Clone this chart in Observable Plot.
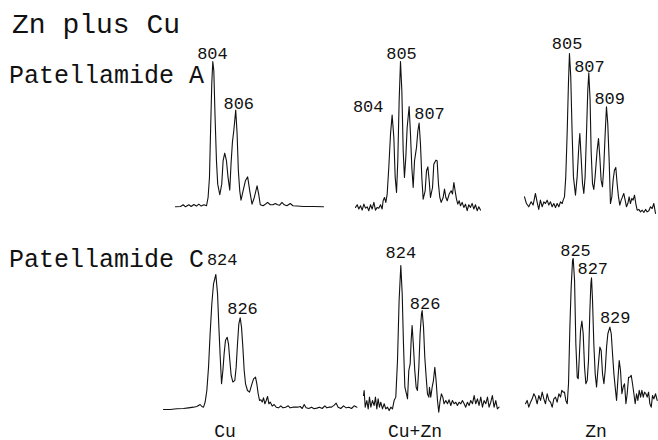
<!DOCTYPE html>
<html><head><meta charset="utf-8">
<script src="https://cdn.jsdelivr.net/npm/d3@7"></script>
<script src="https://cdn.jsdelivr.net/npm/@observablehq/plot@0.6"></script>
<style>
body{margin:0;background:#fff;}
#chart{position:relative;width:658px;height:440px;overflow:hidden;background:#fff;font-family:"Liberation Mono","Courier New",monospace;color:#111;}
.lbl{position:absolute;white-space:pre;line-height:1;}
.ctr{transform:translateX(-50%);line-height:0.8;}
</style></head><body><div id="chart"></div>
<script>
// ---------- DATA (m/z, relative intensity %) ----------
const rowNames = ["Patellamide A", "Patellamide C"];
const colNames = ["Cu", "Cu+Zn", "Zn"];
const titleText = "Zn plus Cu";

// Patellamide A, Cu
const aCuMz = [800.75,801.19,801.42,801.62,801.91,802.12,802.35,802.58,802.78,802.99,803.22,803.45,803.59,803.71,803.80,803.91,804.00,804.09,804.20,804.32,804.43,804.61,804.78,804.90,805.04,805.19,805.33,805.48,805.59,805.71,805.83,806.00,806.12,806.23,806.35,806.46,806.64,806.84,807.04,807.22,807.42,807.62,807.86,808.00,808.14,808.38,808.58,808.78,809.01,809.25,809.45,809.65,809.83,810.03,810.23,810.46,810.75,810.99,811.33,811.91,812.78,813.65];
const aCuInt = [0,0.2,1.4,0,1.4,0.2,1.6,0.5,1.8,0.5,1.4,0.7,6.4,20.2,50,84.4,100,93.6,61.5,31.7,15.6,8.3,15.6,31.7,36.9,31.7,20.2,11.5,29.4,44.3,52.3,66.5,50,24.8,11,4.6,11,17.9,20.6,11,1.8,6.4,14.4,8.7,1.4,0.7,1.8,3,1.4,1.4,2.3,1.4,1.1,3,1.4,0.7,2.3,0.7,0.5,0.2,0.2,0];
const aCuLabel = ["804","806"], aCuLabelMz = [803.97,806.26], aCuLabelInt = [105.6,71.2];

// Patellamide A, Cu+Zn
const aCuZnMz = [800.00,800.19,800.37,800.56,800.74,800.93,801.11,801.30,801.48,801.67,801.85,802.04,802.22,802.41,802.59,802.78,802.96,803.07,803.22,803.37,803.52,803.70,803.89,804.07,804.26,804.41,804.56,804.70,804.85,805.00,805.15,805.30,805.44,805.59,805.74,805.96,806.11,806.26,806.41,806.56,806.78,806.93,807.07,807.22,807.37,807.52,807.74,807.89,808.04,808.19,808.33,808.56,808.70,808.93,809.07,809.22,809.37,809.52,809.74,809.89,810.04,810.19,810.41,810.63,810.78,810.93,811.07,811.22,811.37,811.52,811.67,811.85,812.04,812.22,812.41,812.59,812.78,812.96,813.15,813.33,813.52,813.70,813.89];
const aCuZnInt = [1.8,3.6,0.7,2.9,0,4.0,1.3,2.2,-0.4,3.6,0.7,5.2,0,1.8,1.3,3.6,0.7,6.3,8.5,5.2,10.8,28.7,51.1,63.9,48.9,22,11.9,33.2,73.5,100,80.3,39.9,22,35.4,55.6,69.7,51.1,28.7,15.2,33.2,42.2,53.4,58.5,44.4,22,7.4,13,26.5,29.1,19.7,8.5,15.2,30.9,33.6,33.2,17.5,8.5,5.2,8.5,14.1,8.5,6.3,10.8,13,10.8,18.6,13,7.4,4,6.3,2.9,5.2,1.8,4,-0.4,3.6,1.8,4.5,0.7,3.6,-0.4,2.2,0];
const aCuZnLabel = ["804","805","807"], aCuZnLabelMz = [801.41,805.11,808.22], aCuZnLabelInt = [69.6,105.2,64.7];

// Patellamide A, Zn
const aZnMz = [800.14,800.35,800.60,800.86,801.07,801.32,801.50,801.68,801.86,802.05,802.23,802.41,802.59,802.77,802.95,803.13,803.31,803.49,803.67,803.85,804.03,804.21,804.32,804.46,804.60,804.75,804.89,805.00,805.14,805.29,805.43,805.65,805.83,806.01,806.12,806.26,806.41,806.55,806.69,806.84,806.98,807.09,807.23,807.34,807.49,807.63,807.77,807.99,808.14,808.28,808.42,808.57,808.71,808.86,809.00,809.14,809.29,809.43,809.58,809.72,809.86,810.01,810.15,810.30,810.44,810.59,810.73,810.87,811.02,811.16,811.31,811.45,811.59,811.74,811.88,812.03,812.17,812.32,812.50,812.68,812.86,813.04,813.22,813.40,813.58,813.76,813.94,814.12,814.30];
const aZnInt = [7.5,3.2,1.1,4.3,2.2,9.7,4.3,-0.6,5.4,1.1,4.3,3.2,5.4,2.2,4.3,1.1,3.2,0.6,3.2,1.1,4.3,3.2,5.4,7.5,20.4,48.4,80.6,100,84.9,48.4,20.4,8.6,20.4,39.8,48.4,33.3,16.1,9.7,20.4,48.4,76.3,87.5,69.9,37.6,16.1,12.3,20.4,37.6,45.2,33.3,18.3,14,26.9,48.4,65.6,54.8,31.2,3.2,7.5,18.3,24.7,26.5,16.1,7.5,2.2,5.4,7.5,9.7,5.4,1.1,3.2,7.5,3.2,6.5,5.4,8.6,3.2,-1.1,-0.6,-2.2,-1.1,-2.6,-0.6,-2.2,-1.5,1.1,0,3.2,-3.2];
const aZnLabel = ["805","807","809"], aZnLabelMz = [804.75,807.16,809.35], aZnLabelInt = [106.5,91.5,70.7];

// Patellamide C, Cu
const cCuMz = [819.70,820.25,820.79,821.34,821.75,822.16,822.44,822.71,822.85,822.99,823.12,823.26,823.40,823.53,823.67,823.81,824.00,824.14,824.25,824.36,824.47,824.58,824.68,824.79,824.93,825.04,825.15,825.26,825.40,825.56,825.67,825.78,825.89,826.00,826.11,826.22,826.33,826.44,826.60,826.77,826.93,827.10,827.26,827.37,827.48,827.59,827.70,827.81,827.92,828.03,828.14,828.25,828.36,828.47,828.63,828.79,828.96,829.15,829.34,829.51,829.73,829.95,830.11,830.33,830.49,830.71,830.93,831.10,831.26,831.42,831.64,831.86,832.08,832.30,832.52,832.74,832.96,833.12,833.29,833.51,833.73,833.89,834.05,834.27,834.49,834.71,834.93,835.15,835.37,835.59];
const cCuInt = [-0.5,-0.5,0,0.2,0.7,1.2,1.7,3.2,1.7,1.2,5,13.6,31,55.8,78.2,93.1,100,85.6,60.8,38.5,18.6,28.5,40.9,50.9,53.3,48.4,36,24.8,19.9,21.1,31,48.4,63.3,67.7,60.8,45.9,28.5,18.6,13.6,12.4,17.4,22.3,23.6,18.6,11.2,6.2,6.7,5,8.2,3.7,6.2,9.2,3.7,5,2,3.2,1.2,0.7,2.2,0.7,1.2,2.2,0.7,1.2,1.2,1.2,1.7,0.2,3.2,0.7,0.2,1.2,0,0.5,1.2,0.2,2.2,0.7,1.2,1.2,2.7,4.2,1.2,0.2,2.2,0.7,1.2,0.2,2.2,1.2];
const cCuLabel = ["824","826"], cCuLabelMz = [824.52,826.19], cCuLabelInt = [111.2,74.5];

// Patellamide C, Cu+Zn
const cCuZnMz = [820.50,820.56,820.66,820.81,820.94,821.06,821.19,821.34,821.50,821.62,821.75,821.87,822.00,822.12,822.28,822.44,822.59,822.75,822.91,823.06,823.22,823.37,823.53,823.69,823.84,824.00,824.13,824.25,824.38,824.53,824.63,824.75,824.88,824.97,825.06,825.19,825.31,825.44,825.56,825.69,825.81,825.94,826.00,826.13,826.25,826.38,826.50,826.63,826.69,826.81,826.94,827.06,827.19,827.31,827.44,827.56,827.69,827.81,827.94,828.06,828.22,828.38,828.53,828.69,828.84,829.00,829.16,829.31,829.47,829.63,829.78,829.94,830.09,830.25,830.41,830.56,830.72,830.88,831.03,831.19,831.34,831.50,831.66,831.81,831.97,832.13,832.28,832.44,832.59,832.75,832.91,833.06,833.22];
const cCuZnInt = [8.2,11.8,0,4.7,-1.2,7.1,0,4.7,1.2,7.1,-1.2,5.9,0,3.5,-1.2,2.4,-1.2,0,-2.4,0,-1.2,4.7,7.1,32.9,75.3,100,80,44.7,14.1,9.4,5.9,25.9,30.6,47.1,57.6,42.4,25.9,14.1,11.8,28.2,51.8,65.9,68.2,56.5,35.3,21.2,9.4,7.1,14.1,7.1,14.1,18.8,28.2,18.8,4.7,-3.5,4.7,9.4,7.1,2.4,4.7,2.4,5.2,1.2,4.7,2.4,3.5,1.2,3.5,2.4,4.7,2.4,0,3.5,1.2,4.7,2.4,8.2,2.4,5.9,1.2,7.1,0,4.7,2.4,7.1,0,3.5,8.2,0,4.7,-1.2,0];
const cCuZnLabel = ["824","826"], cCuZnLabelMz = [824.0,826.28], cCuZnLabelInt = [109.2,73];

// Patellamide C, Zn
const cZnMz = [819.80,819.98,820.16,820.35,820.53,820.71,820.89,821.07,821.25,821.44,821.62,821.80,821.98,822.16,822.35,822.53,822.71,822.89,823.07,823.25,823.44,823.62,823.76,823.91,824.05,824.20,824.35,824.49,824.64,824.78,824.93,825.00,825.15,825.29,825.44,825.55,825.65,825.80,825.95,826.09,826.24,826.38,826.53,826.67,826.82,826.93,827.00,827.11,827.25,827.40,827.55,827.69,827.91,828.05,828.20,828.35,828.49,828.64,828.78,829.00,829.15,829.29,829.44,829.58,829.73,829.87,830.02,830.16,830.31,830.45,830.60,830.75,830.89,831.04,831.18,831.33,831.47,831.62,831.76,831.91,832.05,832.20,832.35,832.49,832.64,832.78,832.93,833.07,833.22,833.36,833.51,833.65,833.80,833.98,834.16];
const cZnInt = [0,2.3,-2.3,1.1,3.4,6.9,4.6,0,5.7,2.3,8,3.4,0,6.9,2.3,1.1,-2.3,3.4,4.6,1.1,6.9,4.6,9.2,8,8,2.3,0,13.8,52.8,80.3,98.6,100,84.9,41.3,18.3,17.2,29.8,50.5,56.9,48.2,25.2,13.8,16.1,29.8,64.2,82.6,86.7,71.1,41.3,20.6,11.5,22.9,39,36.7,20.6,13.8,22.9,39,48.2,52.8,48.2,34.4,20.6,11.5,2.3,16.1,29.8,22.9,6.9,11.5,13.8,0,6.9,18.3,18.3,19.5,13.8,6.9,0,6.9,2.3,9.2,4.6,9.2,4.6,8,6.9,4.6,8,0,-2.3,5.7,3.4,6.9,2.3];
const cZnLabel = ["825","827","829"], cZnLabelMz = [825.25,827.13,829.58], cZnLabelInt = [105.3,92.9,59.3];

// ---------- LAYOUT ----------
const FONT = "Liberation Mono, Courier New, monospace";
const panels = [
  {mz:aCuMz, v:aCuInt, lt:aCuLabel, lm:aCuLabelMz, lv:aCuLabelInt, left:175, top:60.7, w:148, h:145.3},
  {mz:aCuZnMz, v:aCuZnInt, lt:aCuZnLabel, lm:aCuZnLabelMz, lv:aCuZnLabelInt, left:355, top:60.7, w:125, h:148.6},
  {mz:aZnMz, v:aZnInt, lt:aZnLabel, lm:aZnLabelMz, lv:aZnLabelInt, left:524, top:53.3, w:131, h:155},
  {mz:cCuMz, v:cCuInt, lt:cCuLabel, lm:cCuLabelMz, lv:cCuLabelInt, left:163.3, top:274, w:193.4, h:134.3},
  {mz:cCuZnMz, v:cCuZnInt, lt:cCuZnLabel, lm:cCuZnLabelMz, lv:cCuZnLabelInt, left:362.7, top:265, w:135.6, h:141.7},
  {mz:cZnMz, v:cZnInt, lt:cZnLabel, lm:cZnLabelMz, lv:cZnLabelInt, left:525, top:258, w:131.7, h:145.3}
];

const chart = document.getElementById("chart");

for (const p of panels) {
  const n = Math.min(p.mz.length, p.v.length);
  const rows = d3.range(n).map(i => ({mz: p.mz[i], v: p.v[i]}));
  const labs = p.lt.map((t, i) => ({t, mz: p.lm[i], v: p.lv[i]}));
  const svg = Plot.plot({
    width: p.w, height: p.h,
    marginTop: 0, marginRight: 0, marginBottom: 0, marginLeft: 0,
    x: {domain: [p.mz[0], p.mz[n - 1]], axis: null},
    y: {domain: [0, 100], axis: null},
    style: {background: "transparent", overflow: "visible"},
    marks: [
      Plot.line(rows, {x: "mz", y: "v", stroke: "#111", strokeWidth: 1.1, curve: "linear"}),
      Plot.text(labs, {x: "mz", y: "v", text: "t", fontSize: 17, fontFamily: FONT, fill: "#111"})
    ]
  });
  svg.style.position = "absolute";
  svg.style.left = p.left + "px";
  svg.style.top = p.top + "px";
  svg.style.maxWidth = "none";
  chart.appendChild(svg);
}

function addLabel(text, left, top, size, center) {
  const d = document.createElement("div");
  d.className = "lbl" + (center ? " ctr" : "");
  d.textContent = text;
  d.style.left = left + "px";
  d.style.top = top + "px";
  d.style.fontSize = size + "px";
  chart.appendChild(d);
}
addLabel(titleText, 12, 11.5, 28, false);
addLabel(rowNames[0], 9, 64, 25, false);
addLabel(rowNames[1], 9, 247.5, 25, false);
const colCenters = [225, 415, 596];
colNames.forEach((c, i) => addLabel(c, colCenters[i], 424.5, 18, true));
</script>
</body></html>
